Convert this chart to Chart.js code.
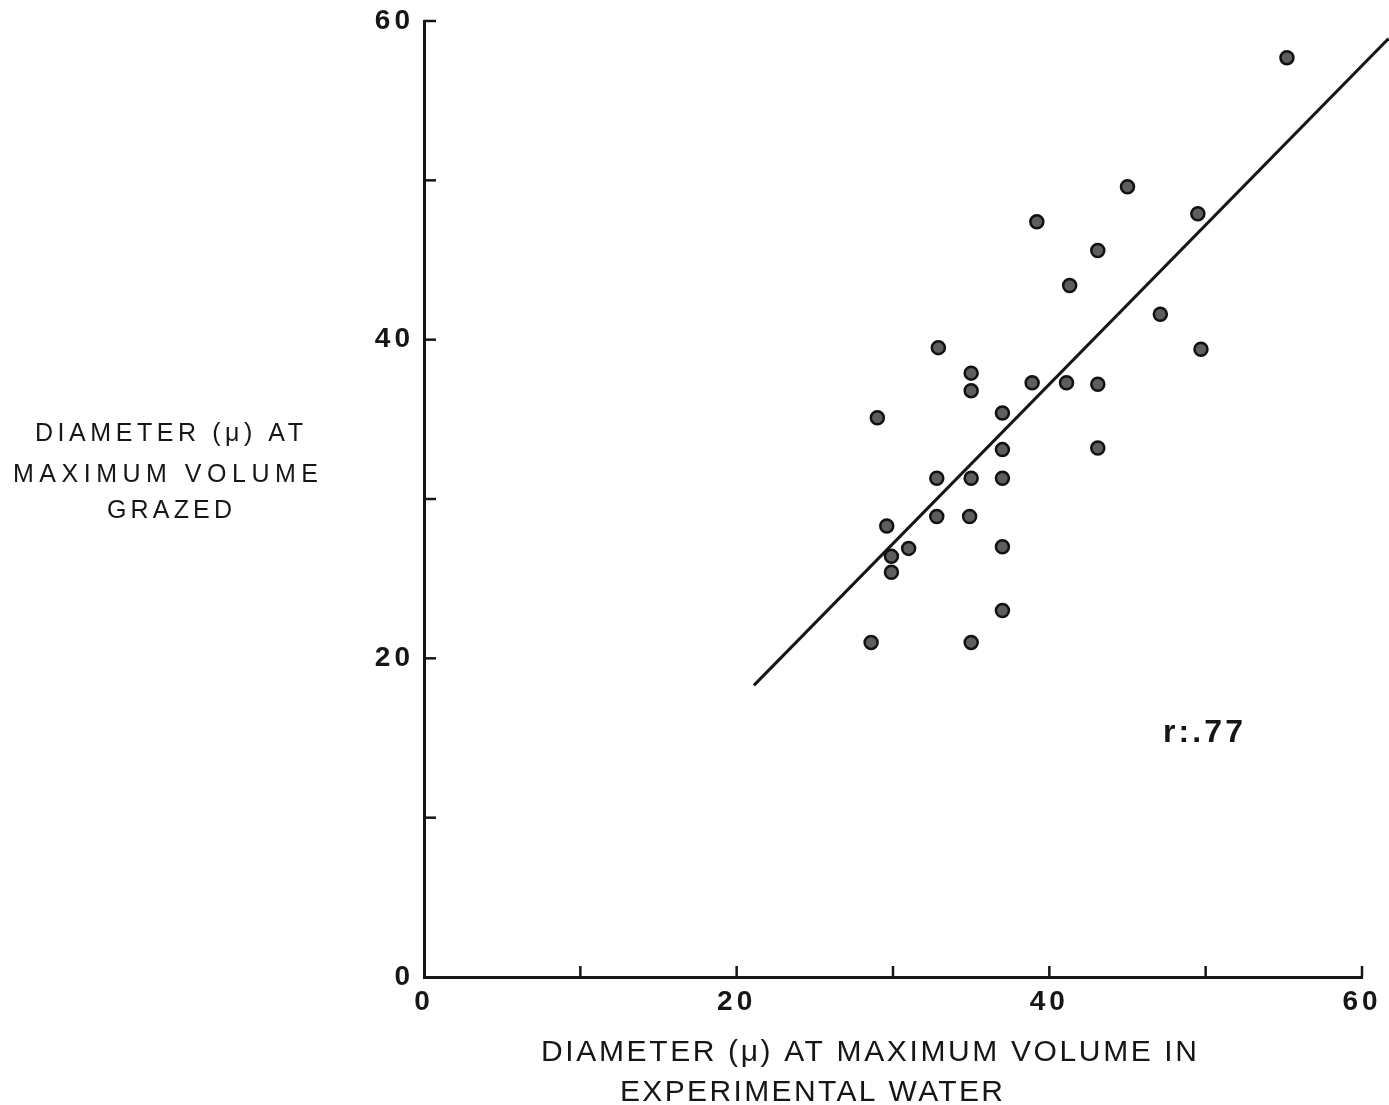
<!DOCTYPE html>
<html>
<head>
<meta charset="utf-8">
<script src="https://cdn.jsdelivr.net/npm/chart.js@4/dist/chart.umd.min.js"></script>
<style>
  html, body { margin: 0; background: #fff; }
</style>
</head>
<body>
<canvas id="chart" width="1389" height="1105"></canvas>
<script>
// diameter (u) at maximum volume in experimental water
const diamWater = [55.2, 45.0, 39.2, 49.5, 43.1, 41.3, 47.1, 32.9, 49.7, 35.0, 35.0,
  38.9, 41.1, 43.1, 29.0, 37.0, 37.0, 43.1, 32.8, 35.0, 37.0, 32.8, 34.9, 29.6,
  29.9, 31.0, 29.9, 37.0, 37.0, 28.6, 35.0];
// diameter (u) at maximum volume grazed
const diamGrazed = [57.7, 49.6, 47.4, 47.9, 45.6, 43.4, 41.6, 39.5, 39.4, 37.9, 36.8,
  37.3, 37.3, 37.2, 35.1, 35.4, 33.1, 33.2, 31.3, 31.3, 31.3, 28.9, 28.9, 28.3,
  26.4, 26.9, 25.4, 27.0, 23.0, 21.0, 21.0];

// regression line ends
const fitX = [21.1, 61.7];
const fitY = [18.3, 58.9];

const tickValues = [0, 10, 20, 30, 40, 50, 60];
const tickLabels = ['0', '', '20', '', '40', '', '60'];

const ink = '#161616';

function fitText(ctx, text, left, baseline, width) {
  ctx.letterSpacing = '0px';
  const w = ctx.measureText(text).width;
  const sp = (width - w) / (text.length - 1);
  ctx.letterSpacing = sp + 'px';
  ctx.textAlign = 'left';
  ctx.fillText(text, left, baseline);
}

const annotate = {
  id: 'annotate',
  beforeDraw(chart) {
    chart.ctx.letterSpacing = '4px';
  },
  afterDraw(chart) {
    const { ctx, scales: { x, y } } = chart;
    ctx.save();
    ctx.letterSpacing = '0px';
    ctx.strokeStyle = ink;
    ctx.lineWidth = 2.5;

    // inward tick marks
    x.ticks.forEach(t => {
      if (t.value === 0) return;
      const px = x.getPixelForValue(t.value);
      ctx.beginPath();
      ctx.moveTo(px, y.bottom);
      ctx.lineTo(px, y.bottom - 11);
      ctx.stroke();
    });
    y.ticks.forEach(t => {
      if (t.value === 0) return;
      const py = y.getPixelForValue(t.value);
      ctx.beginPath();
      ctx.moveTo(x.left, py);
      ctx.lineTo(x.left + 12, py);
      ctx.stroke();
    });

    ctx.fillStyle = ink;
    ctx.textBaseline = 'alphabetic';

    // y axis title, horizontal, three lines
    ctx.font = '25px "Liberation Sans"';
    fitText(ctx, 'DIAMETER (\u03bc) AT', 35, 441, 268);
    fitText(ctx, 'MAXIMUM VOLUME', 13, 482, 305);
    fitText(ctx, 'GRAZED', 107, 518, 125);

    // x axis title, two lines
    ctx.font = '30px "Liberation Sans"';
    fitText(ctx, 'DIAMETER (\u03bc) AT MAXIMUM VOLUME IN', 541, 1061, 656);
    fitText(ctx, 'EXPERIMENTAL WATER', 620, 1101, 383);

    // correlation note
    ctx.font = 'bold 32px "Liberation Sans"';
    fitText(ctx, 'r:.77', 1163, 742, 80);

    ctx.restore();
  }
};

const tickFont = { family: 'Liberation Sans', size: 28, weight: 'bold' };

new Chart(document.getElementById('chart'), {
  type: 'scatter',
  data: {
    datasets: [
      {
        label: 'observations',
        data: diamWater.map((v, i) => ({ x: v, y: diamGrazed[i] })),
        pointRadius: 6.5,
        pointBackgroundColor: '#5e5e5e',
        pointBorderColor: '#111',
        pointBorderWidth: 2.5,
        order: 1
      },
      {
        type: 'line',
        label: 'fit',
        data: fitX.map((v, i) => ({ x: v, y: fitY[i] })),
        borderColor: ink,
        borderWidth: 3,
        pointRadius: 0,
        clip: false,
        order: 2
      }
    ]
  },
  options: {
    responsive: false,
    animation: false,
    devicePixelRatio: 1,
    layout: { padding: { top: 21, right: 27, left: 0, bottom: 0 } },
    plugins: {
      legend: { display: false },
      tooltip: { enabled: false }
    },
    scales: {
      x: {
        type: 'linear',
        min: 0,
        max: 60,
        afterFit: s => { s.height = 128; s.paddingLeft = 0; s.paddingRight = 0; },
        afterBuildTicks: s => { s.ticks = tickValues.map(v => ({ value: v })); },
        ticks: {
          autoSkip: false,
          maxRotation: 0,
          padding: 8,
          color: ink,
          font: tickFont,
          callback: v => tickLabels[tickValues.indexOf(v)] ?? ''
        },
        grid: { display: true, drawOnChartArea: false, drawTicks: false },
        border: { display: true, color: ink, width: 3 }
      },
      y: {
        type: 'linear',
        min: 0,
        max: 60,
        afterFit: s => { s.width = 424; s.paddingTop = 0; s.paddingBottom = 0; },
        afterBuildTicks: s => { s.ticks = tickValues.map(v => ({ value: v })); },
        ticks: {
          autoSkip: false,
          padding: 10,
          color: ink,
          font: tickFont,
          callback: v => tickLabels[tickValues.indexOf(v)] ?? ''
        },
        grid: { display: true, drawOnChartArea: false, drawTicks: false },
        border: { display: true, color: ink, width: 3 }
      }
    }
  },
  plugins: [annotate]
});
</script>
</body>
</html>
